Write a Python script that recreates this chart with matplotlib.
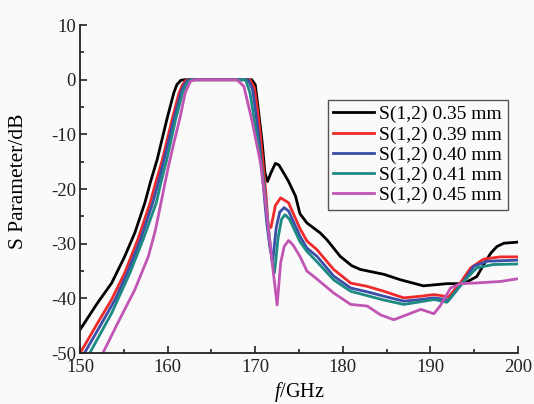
import numpy as np
import matplotlib
matplotlib.use('Agg')
import matplotlib.pyplot as plt
from matplotlib.ticker import MultipleLocator

plt.rcParams['font.family'] = ['Liberation Serif', 'DejaVu Serif']
plt.rcParams['mathtext.fontset'] = 'custom'
plt.rcParams['mathtext.rm'] = 'Liberation Serif'
plt.rcParams['mathtext.it'] = 'Liberation Serif:italic'
plt.rcParams['axes.unicode_minus'] = False

# ------------------------------------------------------------
# Data (frequency in GHz, S12 in dB)
# ------------------------------------------------------------
f_035 = [150, 152, 153.6, 155.1, 156.25, 157.4, 158.0, 158.8, 159.9, 160.7, 161.05, 161.5, 162,
         166, 169.6, 170.0, 170.4, 170.8, 171.1, 171.4, 171.8, 172.3, 172.7, 173.3, 173.8, 174.6,
         175.1, 175.9, 177.4, 178.2, 179.7, 181.0, 182.0, 184.7, 186.6, 189.2, 191.9, 193.8,
         195.3, 196.2, 196.9, 197.6, 198.4, 200]
s_035 = [-45.7, -40.8, -37.2, -32.3, -28.0, -22.5, -18.9, -14.6, -7.3, -2.4, -0.9, -0.1, 0,
         0, 0, -0.9, -6.1, -11.6, -17.0, -18.6, -17.0, -15.3, -15.6, -17.2, -18.6, -21.3,
         -24.5, -26.2, -28.0, -29.3, -32.3, -34.0, -34.7, -35.6, -36.6, -37.7, -37.3, -37.3,
         -36.0, -33.5, -31.7, -30.5, -29.9, -29.7]

f_039 = [150, 152, 153.6, 155.1, 156.6, 158.0, 158.6, 159.4, 160.5, 161.3, 161.7, 162.1, 162.6,
         166, 169.4, 169.9, 170.3, 170.6, 170.9, 171.2, 171.5, 171.8, 172.3, 172.9, 173.8,
         175.1, 175.9, 177.05, 178.95, 180.9, 182.8, 184.7, 186.95, 188.9, 190.4, 192.1,
         193.4, 194.6, 196.1, 198, 200]
s_039 = [-50.0, -44.5, -40.2, -35.3, -29.2, -22.5, -19.0, -14.6, -7.3, -2.4, -0.9, -0.1, 0,
         0, 0, -1.5, -6.0, -10.4, -15.5, -20.5, -27.1, -27.0, -23.0, -21.6, -22.5,
         -27.2, -29.5, -31.1, -34.7, -37.2, -37.8, -38.7, -39.9, -39.6, -39.3, -39.7,
         -37.2, -34.4, -32.8, -32.4, -32.4]

f_040 = [150, 150.5, 152.3, 154.0, 155.4, 156.9, 158.3, 158.9, 159.6, 160.7, 161.5, 161.9, 162.3,
         162.8, 166, 169.2, 169.7, 170.1, 170.5, 170.9, 171.3, 171.7, 172.0, 172.4, 172.8,
         173.3, 173.8, 175.1, 175.9, 177.05, 178.95, 180.9, 182.8, 184.7, 186.95, 188.9,
         190.4, 192.1, 193.8, 194.95, 196.5, 200]
s_040 = [-51.4, -50.0, -45.0, -40.2, -35.3, -29.2, -22.5, -19.0, -14.6, -7.3, -2.4, -0.9, -0.1,
         0, 0, 0, -1.8, -6.5, -12.0, -19.0, -26.0, -31.0, -33.0, -27.0, -24.2,
         -23.4, -24.0, -28.6, -30.8, -32.3, -35.9, -38.1, -38.8, -39.6, -40.5, -40.2,
         -39.9, -40.3, -36.9, -34.1, -33.2, -33.0]

f_041 = [150, 151.1, 153.6, 155.7, 157.2, 158.7, 159.2, 159.9, 160.9, 161.7, 162.1, 162.5, 163.0,
         166, 168.9, 169.4, 170.2, 170.95, 171.5, 171.9, 172.2, 172.6, 173.0, 173.4, 173.9,
         175.1, 175.9, 177.05, 178.95, 180.9, 182.8, 184.7, 186.95, 188.9, 190.4, 191.9,
         193.8, 195.3, 197.2, 200]
s_041 = [-53.0, -50.0, -42.7, -35.3, -29.2, -22.5, -19.0, -14.6, -7.3, -2.4, -0.9, -0.1, 0,
         0, 0, -2.4, -10.4, -18.3, -27.0, -33.0, -35.3, -29.0, -25.5, -24.7, -25.5,
         -29.6, -31.4, -33.3, -36.6, -38.7, -39.5, -40.3, -41.1, -40.6, -40.2, -40.7,
         -36.9, -34.4, -33.8, -33.7]

f_045 = [151.5, 152.6, 154.3, 156.25, 157.8, 158.6, 159.3, 160.0, 160.7, 161.4, 162.0, 162.6, 163.1,
         166, 167.9, 168.7, 169.6, 170.6, 171.1, 171.9, 172.5, 172.9, 173.3, 173.8, 174.3,
         175.1, 175.9, 176.7, 178.95, 180.9, 182.8, 184.3, 185.8, 187.3, 188.9, 190.4, 191.1,
         192.3, 193.4, 194.95, 198, 200]
s_045 = [-53.5, -50.0, -44.5, -38.4, -32.3, -27.5, -22.0, -16.5, -11.6, -7.0, -2.4, -0.3, 0,
         0, 0, -1.2, -7.3, -15.2, -21.5, -33.0, -41.2, -33.5, -30.5, -29.4, -30.2,
         -32.3, -35.0, -36.0, -39.0, -41.1, -41.4, -43.0, -43.9, -43.0, -42.0, -42.8, -41.4,
         -38.1, -37.3, -37.2, -36.9, -36.4]

labels = ['S(1,2) 0.35 mm', 'S(1,2) 0.39 mm', 'S(1,2) 0.40 mm', 'S(1,2) 0.41 mm', 'S(1,2) 0.45 mm']
colors = ['#000000', '#ee2a2a', '#3b4ea8', '#1e8a84', '#c055b4']

# ------------------------------------------------------------
# Plot
# ------------------------------------------------------------
fig = plt.figure(figsize=(5.34, 4.04), dpi=100, facecolor='#fafafa')
ax = fig.add_axes([0.150, 0.126, 0.820, 0.812])
ax.set_facecolor('#fafafa')

series = [(f_035, s_035), (f_039, s_039), (f_040, s_040), (f_041, s_041), (f_045, s_045)]
for (f, s), lab, c in zip(series, labels, colors):
    ax.plot(f, s, color=c, lw=2.0, label=lab, solid_joinstyle='round')

ax.set_xlim(150, 200)
ax.set_ylim(-50, 10)
ax.xaxis.set_major_locator(MultipleLocator(10))
ax.xaxis.set_minor_locator(MultipleLocator(5))
ax.yaxis.set_major_locator(MultipleLocator(10))
ax.yaxis.set_minor_locator(MultipleLocator(5))

for side in ['top', 'right']:
    ax.spines[side].set_visible(False)
for side in ['left', 'bottom']:
    ax.spines[side].set_linewidth(1.3)
    ax.spines[side].set_color('#222222')

ax.tick_params(which='major', direction='in', length=5, width=1.2, labelsize=13.5,
               colors='#222222')
ax.tick_params(axis='x', which='major', pad=4)
ax.tick_params(axis='y', which='major', pad=3)
ax.tick_params(which='minor', direction='in', length=3, width=1.2, colors='#222222')

ax.set_xlabel(r'$f$/GHz', fontsize=14.5)
ax.xaxis.set_label_coords(0.5, -0.082)
ax.set_ylabel('S Parameter/dB', fontsize=15.5)
ax.yaxis.set_label_coords(-0.118, 0.524)

leg = ax.legend(loc='upper left', bbox_to_anchor=(0.565, 0.772), borderaxespad=0,
                fontsize=14, frameon=True, fancybox=False, framealpha=1,
                handlelength=2.1, handletextpad=0.25, borderpad=0.3, labelspacing=0.13)
leg.get_frame().set_edgecolor('#555555')
leg.get_frame().set_linewidth(1.0)
leg.get_frame().set_facecolor('#fafafa')

fig.savefig('out.png', dpi=100, facecolor=fig.get_facecolor())
